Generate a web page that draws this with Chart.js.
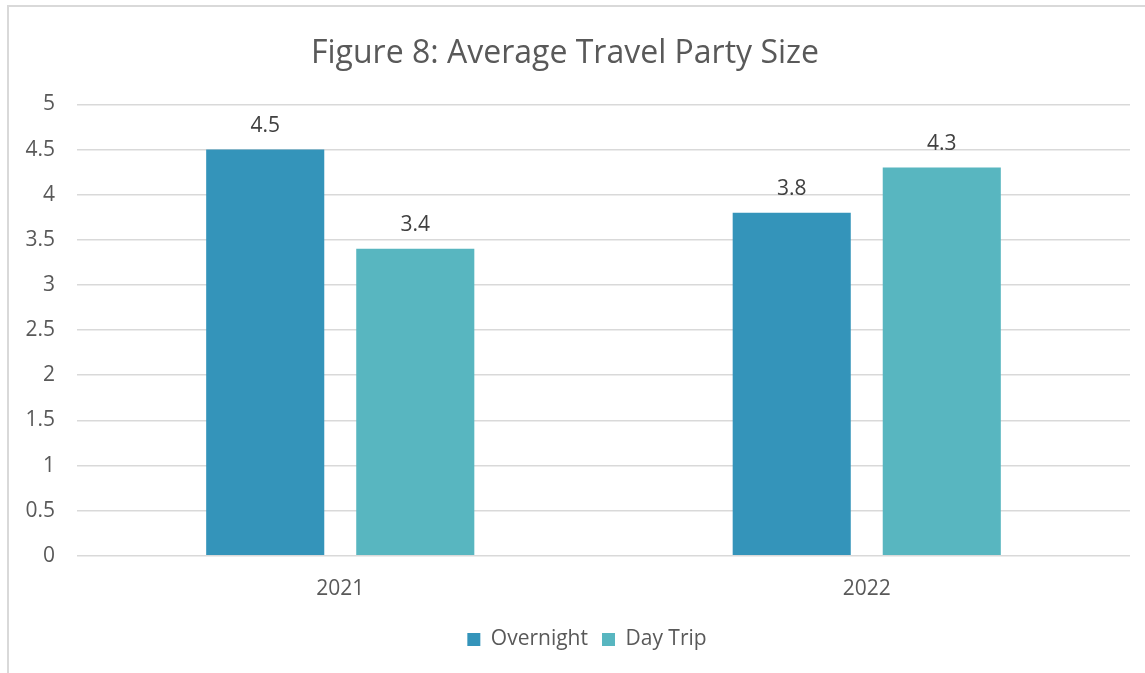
<!DOCTYPE html>
<html>
<head>
<meta charset="utf-8">
<script src="https://cdn.jsdelivr.net/npm/chart.js@4/dist/chart.umd.min.js"></script>
<style>
  html, body { margin: 0; padding: 0; background: #fff; overflow: hidden; }
  #wrap { position: absolute; left: 0; top: 0; width: 1145px; height: 673px; }
  #frame { position: absolute; left: 7px; top: 5px; width: 1160px; height: 700px;
           border: 2px solid #d9d9d9; box-sizing: border-box; pointer-events: none; }
</style>
</head>
<body>
<div id="wrap"><canvas id="chart"></canvas></div>
<div id="frame"></div>
<script>
const years = ['2021', '2022'];
const overnight = [4.5, 3.8];
const dayTrip = [3.4, 4.3];
const seriesNames = ['Overnight', 'Day Trip'];

const FONT = "'Open Sans', 'Noto Sans', sans-serif";

// value labels above each bar
const barValues = {
  id: 'barValues',
  afterDatasetsDraw(chart) {
    const ctx = chart.ctx;
    ctx.save();
    ctx.font = '21px ' + FONT;
    ctx.fillStyle = '#404040';
    ctx.textAlign = 'center';
    ctx.textBaseline = 'bottom';
    chart.data.datasets.forEach((ds, i) => {
      chart.getDatasetMeta(i).data.forEach((bar, j) => {
        ctx.fillText(ds.data[j].toFixed(1), bar.x, bar.y - 13);
      });
    });
    ctx.restore();
  }
};

// nudge the legend a little right of the canvas centre
const legendShift = {
  id: 'legendShift',
  afterLayout(chart) {
    const lg = chart.legend;
    if (lg) { lg.left += 22; lg.right += 22; }
  }
};

new Chart(document.getElementById('chart'), {
  type: 'bar',
  data: {
    labels: years,
    datasets: [
      { label: seriesNames[0], data: overnight, backgroundColor: '#3494ba' },
      { label: seriesNames[1], data: dayTrip, backgroundColor: '#58b6c0' }
    ]
  },
  options: {
    responsive: true,
    maintainAspectRatio: false,
    animation: false,
    categoryPercentage: 0.57,
    barPercentage: 0.787,
    layout: { padding: { left: 0, right: 15, top: 0, bottom: 13 } },
    plugins: {
      title: {
        display: true,
        text: 'Figure 8: Average Travel Party Size',
        color: '#595959',
        font: { family: FONT, size: 32, weight: 'normal' },
        padding: { top: 35, bottom: 31 }
      },
      legend: {
        position: 'bottom',
        labels: {
          color: '#595959',
          font: { family: FONT, size: 21 },
          boxWidth: 13,
          boxHeight: 13,
          padding: 14
        }
      },
      tooltip: { enabled: false }
    },
    scales: {
      x: {
        grid: { display: false },
        border: { display: false },
        ticks: { color: '#595959', font: { family: FONT, size: 21 }, padding: 13 }
      },
      y: {
        min: 0,
        max: 5,
        afterFit(scale) { scale.width = 77; },
        grid: { color: '#d9d9d9', lineWidth: 1.5, drawTicks: false },
        border: { display: false },
        ticks: {
          stepSize: 0.5,
          color: '#595959',
          font: { family: FONT, size: 21 },
          padding: 22,
          callback: (v) => String(v)
        }
      }
    }
  },
  plugins: [barValues, legendShift]
});
</script>
</body>
</html>
